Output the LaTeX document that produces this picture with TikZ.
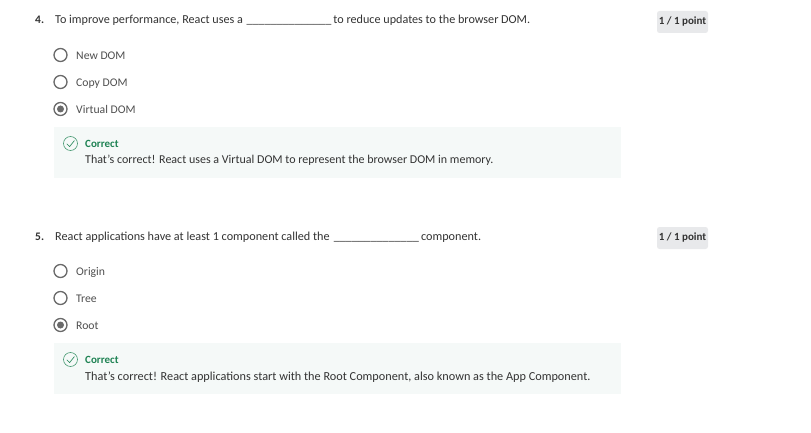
\documentclass[tikz,border=0pt]{standalone}
\usepackage{fontspec}
\setmainfont{Carlito}
\definecolor{txt}{HTML}{333333}
\definecolor{opt}{HTML}{4F4F4F}
\definecolor{ring}{HTML}{6A6A6A}
\definecolor{fb}{HTML}{F5F9F8}
\definecolor{ok}{HTML}{1F8354}
\definecolor{chip}{HTML}{E8E9EB}
\newcommand{\blankline}{\hspace{-.6pt}\_\_\_\_\_\_\_\_\_\_\_\_\_\_\hspace{-.6pt}}
\newcommand{\apos}{\symbol{39}}
\tikzset{
 x=1pt,y=-1pt,
 lbl/.style={anchor=base west,inner sep=0pt,font=\fontsize{12}{14}\selectfont},
 qtext/.style={lbl,text=txt},
 midtext/.style={lbl,text=txt,font=\fontsize{12.15}{14}\selectfont},
 widetext/.style={lbl,text=txt,font=\fontsize{12.2}{14}\selectfont},
 fbwide/.style={lbl,text=txt,font=\fontsize{12.25}{14}\selectfont},
 qnum/.style={lbl,text=txt,font=\fontsize{11.5}{14}\selectfont\bfseries},
 opttext/.style={lbl,text=opt,font=\fontsize{11.7}{14}\selectfont},
 radio/.style={circle,draw=ring,line width=1.3pt,fill=white,minimum size=13pt,inner sep=0pt},
 dot/.style={circle,fill=ring,minimum size=7pt,inner sep=0pt},
 panel/.style={anchor=north west,fill=fb,inner sep=0pt},
 okring/.style={circle,draw=ok!80!white,line width=.6pt,minimum size=14pt,inner sep=0pt},
 oktitle/.style={lbl,text=ok,font=\fontsize{11}{14}\selectfont\bfseries},
 score/.style={rounded corners=2.5pt,fill=chip,text=txt,inner sep=0pt,minimum width=51pt,minimum height=22pt,font=\fontsize{11}{14}\selectfont\bfseries},
 tick/.style={draw=ok,line width=.6pt}
}
\begin{document}
\begin{tikzpicture}
\useasboundingbox (0,0) rectangle (811,433);
\fill[white] (0,0) rectangle (811,433);
% question 4
\node[qnum] (n4) at (35,24) {4.};
\node[midtext] (q4) at (55,24) {To improve performance, React uses a\hspace{1.5pt} \blankline{} to reduce updates to the browser DOM.};
\node[score] (s4) at (682.5,22) {\raisebox{-.8pt}{1 / 1 point}};
\node[radio] (r4a) at (60.5,55) {};
\node[opttext] (o4a) at (76,60) {New DOM};
\node[radio] (r4b) at (60.5,82) {};
\node[opttext] (o4b) at (76,87) {Copy DOM};
\node[radio] (r4c) at (60.5,109) {};
\node[dot] at (r4c) {};
\node[opttext] (o4c) at (76,114) {Virtual DOM};
\node[panel,minimum width=567pt,minimum height=51pt] (p4) at (54,127) {};
\node[okring] (c4) at (70.5,143.5) {};
\draw[tick] (66.8,143.8) -- (69.6,146.6) -- (74.4,140.6);
\node[oktitle] (t4) at (85,147) {Correct};
\node[qtext] (f4) at (85,164) {That\apos s correct! React uses a Virtual DOM to represent the browser DOM in memory.};
% question 5
\node[qnum] (n5) at (35,240) {5.};
\node[widetext] (q5) at (55,240) {React applications have at least 1 component called the\hspace{2pt} \blankline{} component.};
\node[score] (s5) at (682.5,238) {\raisebox{-.8pt}{1 / 1 point}};
\node[radio] (r5a) at (60.5,271) {};
\node[opttext] (o5a) at (76,275.5) {Origin};
\node[radio] (r5b) at (60.5,298) {};
\node[opttext] (o5b) at (76,302.5) {Tree};
\node[radio] (r5c) at (60.5,325) {};
\node[dot] at (r5c) {};
\node[opttext] (o5c) at (76,329.5) {Root};
\node[panel,minimum width=567pt,minimum height=51pt] (p5) at (54,343) {};
\node[okring] (c5) at (70.5,359.5) {};
\draw[tick] (66.8,359.8) -- (69.6,362.6) -- (74.4,356.6);
\node[oktitle] (t5) at (85,363) {Correct};
\node[fbwide] (f5) at (85,380) {That\apos s correct! React applications start with the Root Component, also known as the App Component.};
\end{tikzpicture}
\end{document}
